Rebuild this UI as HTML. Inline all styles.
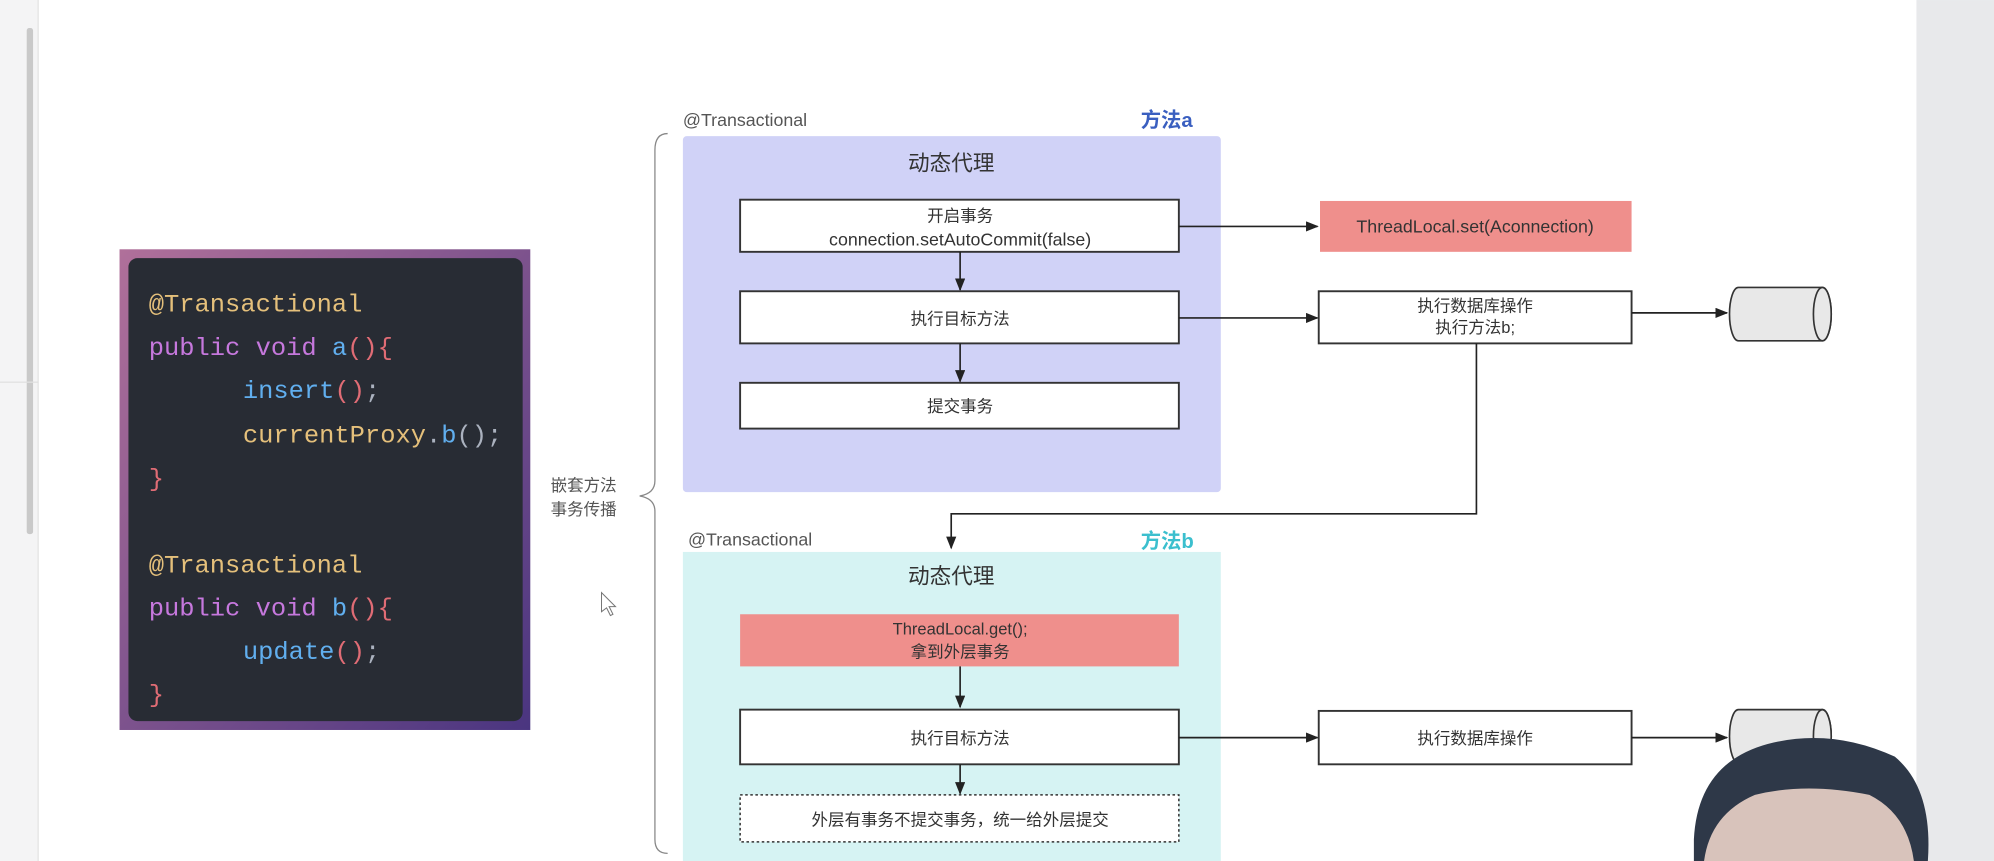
<!DOCTYPE html>
<html><head><meta charset="utf-8"><style>
html,body{margin:0;padding:0;background:#fff;overflow:hidden;width:1994px;height:861px}
svg{display:block}
.t{font-family:"Liberation Sans","Noto Sans CJK SC",sans-serif;fill:#333}
.c{font-family:"Liberation Mono","DejaVu Sans Mono",monospace;font-size:20px}
</style></head><body>
<svg width="1994" height="861" viewBox="0 0 1568 677" xmlns="http://www.w3.org/2000/svg">
<defs>
<marker id="ar" markerWidth="10" markerHeight="8" refX="9" refY="4" orient="auto" markerUnits="userSpaceOnUse"><path d="M0,0 L10,4 L0,8 z" fill="#222"/></marker>
<linearGradient id="g" x1="0" y1="0" x2="1" y2="1"><stop offset="0" stop-color="#b0709a"/><stop offset="1" stop-color="#4a3580"/></linearGradient>
<clipPath id="cp"><rect x="0" y="0" width="1568" height="677"/></clipPath>
</defs>
<g clip-path="url(#cp)">
<rect width="1568" height="677" fill="#fff"/>
<rect x="0" y="0" width="30" height="677" fill="#f4f4f5"/>
<line x1="30" y1="0" x2="30" y2="677" stroke="#e3e3e3"/>
<rect x="21" y="22" width="5" height="398" rx="2" fill="#c9c9c9"/>
<rect x="0" y="300" width="30" height="1" fill="#e0e0e0"/>
<rect x="1507" y="0" width="61" height="677" fill="#e8e9eb"/>
<rect x="94" y="196" width="323" height="378" fill="url(#g)"/>
<rect x="101" y="203" width="310" height="364" rx="7" fill="#282c34"/>
<g class="c">
<text x="117" y="245" fill="#e5c07b">@Transactional</text>
<text x="117" y="279"><tspan fill="#c678dd">public void </tspan><tspan fill="#61afef">a</tspan><tspan fill="#e06c75">(){</tspan></text>
<text x="191" y="313"><tspan fill="#61afef">insert</tspan><tspan fill="#e06c75">()</tspan><tspan fill="#abb2bf">;</tspan></text>
<text x="191" y="348"><tspan fill="#e5c07b">currentProxy</tspan><tspan fill="#abb2bf">.</tspan><tspan fill="#61afef">b</tspan><tspan fill="#abb2bf">();</tspan></text>
<text x="117" y="382" fill="#e06c75">}</text>
<text x="117" y="450" fill="#e5c07b">@Transactional</text>
<text x="117" y="484"><tspan fill="#c678dd">public void </tspan><tspan fill="#61afef">b</tspan><tspan fill="#e06c75">(){</tspan></text>
<text x="191" y="518"><tspan fill="#61afef">update</tspan><tspan fill="#e06c75">()</tspan><tspan fill="#abb2bf">;</tspan></text>
<text x="117" y="552" fill="#e06c75">}</text>
</g>
<path d="M525,105 Q515,105 515,118 L515,378 Q515,388 503,390 Q515,392 515,402 L515,660 Q515,671 525,671" fill="none" stroke="#888" stroke-width="1"/>
<text class="t" x="433" y="386" font-size="13" style="fill:#555">嵌套方法</text>
<text class="t" x="433" y="405" font-size="13" style="fill:#555">事务传播</text>
<path d="M473,466 L473,481 L477,478 L480,484 L482,483 L479,477 L484,477 z" fill="#fff" stroke="#777" stroke-width="0.8"/>
<text class="t" x="537" y="99" font-size="14" style="fill:#555">@Transactional</text>
<text class="t" x="897" y="100" font-size="16" font-weight="bold" style="fill:#3a5fc0">方法a</text>
<rect x="537" y="107" width="423" height="280" rx="3" fill="#d0d2f7"/>
<text class="t" x="748" y="134" font-size="17" text-anchor="middle">动态代理</text>
<rect x="582" y="157" width="345" height="41" fill="#fff" stroke="#333" stroke-width="1.5"/>
<text class="t" x="755" y="174" font-size="13" text-anchor="middle">开启事务</text>
<text class="t" x="755" y="193" font-size="14" text-anchor="middle">connection.setAutoCommit(false)</text>
<line x1="755" y1="198" x2="755" y2="228" stroke="#222" stroke-width="1.3" marker-end="url(#ar)"/>
<rect x="582" y="229" width="345" height="41" fill="#fff" stroke="#333" stroke-width="1.5"/>
<text class="t" x="755" y="255" font-size="13" text-anchor="middle">执行目标方法</text>
<line x1="755" y1="270" x2="755" y2="300" stroke="#222" stroke-width="1.3" marker-end="url(#ar)"/>
<rect x="582" y="301" width="345" height="36" fill="#fff" stroke="#333" stroke-width="1.5"/>
<text class="t" x="755" y="324" font-size="13" text-anchor="middle">提交事务</text>
<line x1="927" y1="178" x2="1036" y2="178" stroke="#222" stroke-width="1.3" marker-end="url(#ar)"/>
<rect x="1038" y="158" width="245" height="40" fill="#ef8f8c"/>
<text class="t" x="1160" y="183" font-size="14" text-anchor="middle">ThreadLocal.set(Aconnection)</text>
<line x1="927" y1="250" x2="1036" y2="250" stroke="#222" stroke-width="1.3" marker-end="url(#ar)"/>
<rect x="1037" y="229" width="246" height="41" fill="#fff" stroke="#333" stroke-width="1.5"/>
<text class="t" x="1160" y="245" font-size="13" text-anchor="middle">执行数据库操作</text>
<text class="t" x="1160" y="262" font-size="13" text-anchor="middle">执行方法b;</text>
<line x1="1283" y1="246" x2="1358" y2="246" stroke="#222" stroke-width="1.3" marker-end="url(#ar)"/>
<path d="M1367,226 L1433,226 A7,21 0 0 1 1433,268 L1367,268 A7,21 0 0 1 1367,226 z" fill="#e8e8e8" stroke="#333" stroke-width="1.3"/>
<ellipse cx="1433" cy="247" rx="7" ry="21" fill="#e8e8e8" stroke="#333" stroke-width="1.3"/>
<path d="M1161,270 L1161,404 L748,404 L748,431" fill="none" stroke="#222" stroke-width="1.3" marker-end="url(#ar)"/>
<text class="t" x="541" y="429" font-size="14" style="fill:#555">@Transactional</text>
<text class="t" x="897" y="431" font-size="16" font-weight="bold" style="fill:#3bbfce">方法b</text>
<rect x="537" y="434" width="423" height="243" fill="#d6f3f3"/>
<text class="t" x="748" y="459" font-size="17" text-anchor="middle">动态代理</text>
<rect x="582" y="483" width="345" height="41" fill="#ef8f8c"/>
<text class="t" x="755" y="499" font-size="13" text-anchor="middle">ThreadLocal.get();</text>
<text class="t" x="755" y="517" font-size="13" text-anchor="middle">拿到外层事务</text>
<line x1="755" y1="524" x2="755" y2="556" stroke="#222" stroke-width="1.3" marker-end="url(#ar)"/>
<rect x="582" y="558" width="345" height="43" fill="#fff" stroke="#333" stroke-width="1.5"/>
<text class="t" x="755" y="585" font-size="13" text-anchor="middle">执行目标方法</text>
<line x1="755" y1="601" x2="755" y2="624" stroke="#222" stroke-width="1.3" marker-end="url(#ar)"/>
<rect x="582" y="625" width="345" height="37" fill="#fff" stroke="#333" stroke-width="1.2" stroke-dasharray="2,2"/>
<text class="t" x="755" y="649" font-size="13" text-anchor="middle">外层有事务不提交事务，统一给外层提交</text>
<line x1="927" y1="580" x2="1036" y2="580" stroke="#222" stroke-width="1.3" marker-end="url(#ar)"/>
<rect x="1037" y="559" width="246" height="42" fill="#fff" stroke="#333" stroke-width="1.5"/>
<text class="t" x="1160" y="585" font-size="13" text-anchor="middle">执行数据库操作</text>
<line x1="1283" y1="580" x2="1358" y2="580" stroke="#222" stroke-width="1.3" marker-end="url(#ar)"/>
<path d="M1367,558 L1433,558 A7,21 0 0 1 1433,600 L1367,600 A7,21 0 0 1 1367,558 z" fill="#e8e8e8" stroke="#333" stroke-width="1.3"/>
<ellipse cx="1433" cy="579" rx="7" ry="21" fill="#e8e8e8" stroke="#333" stroke-width="1.3"/>
<path d="M1337,677 Q1335,630 1360,610 Q1425,590 1495,612 Q1515,640 1513,677 z" fill="#d8c3bb"/>
<path d="M1332,660 Q1335,600 1390,585 Q1440,572 1490,595 Q1520,620 1516,677 L1505,677 Q1500,640 1470,625 Q1420,615 1380,625 Q1345,640 1340,677 L1332,677 z" fill="#2e3848"/>
</g>
</svg>
</body></html>
